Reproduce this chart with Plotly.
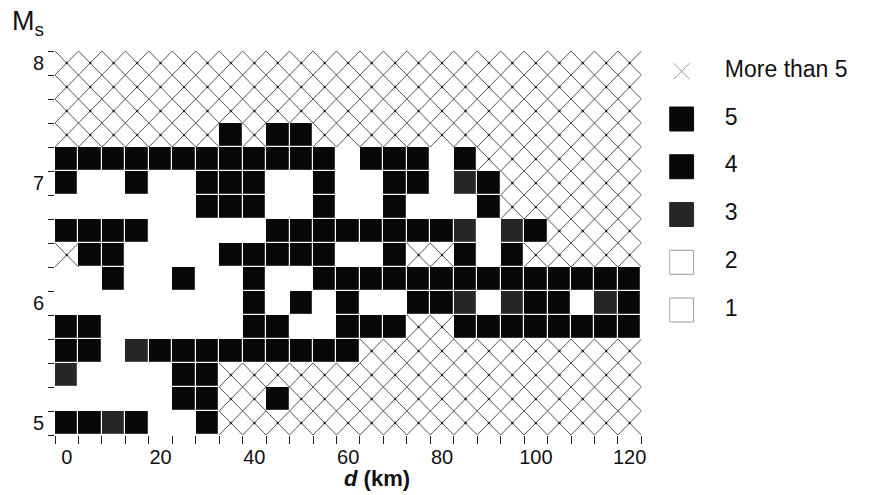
import plotly.graph_objects as go

# ---------------- data ----------------
d_km = [0, 5, 10, 15, 20, 25, 30, 35, 40, 45, 50, 55, 60,
        65, 70, 75, 80, 85, 90, 95, 100, 105, 110, 115, 120]
ms = [8.0, 7.8, 7.6, 7.4, 7.2, 7.0, 6.8, 6.6, 6.4, 6.2, 6.0, 5.8, 5.6, 5.4, 5.2, 5.0]

# class per cell: 1..5 = count class, 6 = "More than 5"
row_8_0 = [6] * 25
row_7_8 = [6] * 25
row_7_6 = [6] * 25
row_7_4 = [6, 6, 6, 6, 6, 6, 6, 4, 6, 4, 4, 6, 6, 6, 6, 6, 6, 6, 6, 6, 6, 6, 6, 6, 6]
row_7_2 = [4, 4, 4, 4, 4, 4, 4, 4, 4, 4, 4, 4, 1, 4, 4, 4, 1, 4, 6, 6, 6, 6, 6, 6, 6]
row_7_0 = [4, 1, 1, 4, 1, 1, 4, 4, 4, 1, 1, 4, 1, 1, 4, 4, 1, 3, 4, 6, 6, 6, 6, 6, 6]
row_6_8 = [1, 1, 1, 1, 1, 1, 4, 4, 4, 1, 1, 4, 1, 1, 4, 1, 1, 1, 4, 6, 6, 6, 6, 6, 6]
row_6_6 = [4, 4, 4, 4, 1, 1, 1, 1, 1, 4, 4, 4, 4, 4, 4, 4, 4, 3, 1, 3, 4, 6, 6, 6, 6]
row_6_4 = [6, 4, 4, 1, 1, 1, 1, 4, 4, 4, 4, 4, 1, 1, 4, 6, 6, 4, 1, 4, 6, 6, 6, 6, 6]
row_6_2 = [1, 1, 4, 1, 1, 4, 1, 1, 4, 1, 1, 4, 4, 4, 4, 4, 4, 4, 4, 4, 4, 4, 4, 4, 4]
row_6_0 = [1, 1, 1, 1, 1, 1, 1, 1, 4, 1, 4, 1, 4, 1, 1, 4, 4, 3, 1, 3, 4, 4, 1, 3, 4]
row_5_8 = [4, 4, 1, 1, 1, 1, 1, 1, 4, 4, 1, 1, 4, 4, 4, 6, 6, 4, 4, 4, 4, 4, 4, 4, 4]
row_5_6 = [4, 4, 1, 3, 4, 4, 4, 4, 4, 4, 4, 4, 4, 6, 6, 6, 6, 6, 6, 6, 6, 6, 6, 6, 6]
row_5_4 = [3, 1, 1, 1, 1, 4, 4, 6, 6, 6, 6, 6, 6, 6, 6, 6, 6, 6, 6, 6, 6, 6, 6, 6, 6]
row_5_2 = [1, 1, 1, 1, 1, 4, 4, 6, 6, 4, 6, 6, 6, 6, 6, 6, 6, 6, 6, 6, 6, 6, 6, 6, 6]
row_5_0 = [4, 4, 3, 4, 1, 1, 4, 6, 6, 6, 6, 6, 6, 6, 6, 6, 6, 6, 6, 6, 6, 6, 6, 6, 6]

grid = [row_8_0, row_7_8, row_7_6, row_7_4, row_7_2, row_7_0, row_6_8, row_6_6,
        row_6_4, row_6_2, row_6_0, row_5_8, row_5_6, row_5_4, row_5_2, row_5_0]

x_ticks = [0, 20, 40, 60, 80, 100, 120]
y_ticks = [5, 6, 7, 8]

legend_labels = ["More than 5", "5", "4", "3", "2", "1"]
legend_values = [6, 5, 4, 3, 2, 1]

# ---------------- styles ----------------
FONT = "Liberation Sans, Arial, Helvetica, sans-serif"
BLACK = "#080808"
DARK = "#272727"
HATCH = "#555555"
class_color = {1: "#ffffff", 2: "#ffffff", 3: DARK, 4: BLACK, 5: BLACK}
class_edge = {1: "#9a9a9a", 2: "#9a9a9a", 3: DARK, 4: BLACK, 5: BLACK}

HATCH_CLASS = 6
dx = d_km[1] - d_km[0]
dy = ms[0] - ms[1]

z = [[(v if v != HATCH_CLASS else None) for v in row] for row in grid]

colorscale = [[0.0, "#ffffff"], [0.375, "#ffffff"], [0.375, DARK], [0.625, DARK],
              [0.625, BLACK], [1.0, BLACK]]

fig = go.Figure()
fig.add_trace(go.Heatmap(
    x=d_km, y=ms, z=z, zmin=1, zmax=5, colorscale=colorscale,
    showscale=False, xgap=1.2, ygap=1.2, hoverinfo="skip"))

# hatch ("More than 5") cells: diagonals through each cell
hx, hy, cx, cy = [], [], [], []
for i, m in enumerate(ms):
    for k, d in enumerate(d_km):
        if grid[i][k] == HATCH_CLASS:
            hx += [d - dx / 2, d + dx / 2, None, d - dx / 2, d + dx / 2, None]
            hy += [m - dy / 2, m + dy / 2, None, m + dy / 2, m - dy / 2, None]
            cx.append(d)
            cy.append(m)
fig.add_trace(go.Scatter(x=hx, y=hy, mode="lines",
                         line=dict(color=HATCH, width=1), hoverinfo="skip",
                         showlegend=False))
fig.add_trace(go.Scatter(x=cx, y=cy, mode="markers",
                         marker=dict(color="#222", size=2.5), hoverinfo="skip",
                         showlegend=False))

# ---------------- legend as a small chart on its own axes ----------------
sq_vals = [v for v in legend_values if v != HATCH_CLASS]
fig.add_trace(go.Scatter(
    x=[0] * len(sq_vals), y=sq_vals, mode="markers", xaxis="x2", yaxis="y2",
    marker=dict(symbol="square", size=24,
                color=[class_color[v] for v in sq_vals],
                line=dict(color=[class_edge[v] for v in sq_vals], width=1)),
    hoverinfo="skip", showlegend=False))
fig.add_trace(go.Scatter(
    x=[0], y=[HATCH_CLASS], mode="markers", xaxis="x2", yaxis="y2",
    marker=dict(symbol="x-thin-open", size=16, color="#999999",
                line=dict(color="#999999", width=1)),
    hoverinfo="skip", showlegend=False))
fig.add_trace(go.Scatter(
    x=[1.75] * len(legend_labels), y=legend_values, mode="text", text=legend_labels,
    textposition="middle right", xaxis="x2", yaxis="y2",
    textfont=dict(family=FONT, size=23, color="#111"),
    hoverinfo="skip", showlegend=False))

W, H = 872, 495
ML, MR, MT, MB = 55, 0, 51, 60
plot_w = W - ML - MR
plot_h = H - MT - MB
main_w = 590

fig.update_layout(
    width=W, height=H,
    margin=dict(l=ML, r=MR, t=MT, b=MB),
    paper_bgcolor="white", plot_bgcolor="white",
    showlegend=False,
    font=dict(family=FONT, color="#111"),
    xaxis=dict(domain=[0, main_w / plot_w], range=[d_km[0] - dx / 2, d_km[-1] + dx / 2],
               tickvals=x_ticks, ticks="", ticklabelstandoff=8,
               tickfont=dict(family=FONT, size=20, color="#111"),
               showgrid=False, zeroline=False, showline=False,
               minor=dict(tick0=d_km[0] - dx / 2, dtick=dx, ticks="outside",
                          ticklen=8, tickcolor="#222", tickwidth=1, showgrid=False)),
    yaxis=dict(range=[ms[-1] - dy / 2, ms[0] + dy / 2],
               tickvals=y_ticks, ticks="", ticklabelstandoff=10,
               tickfont=dict(family=FONT, size=20, color="#111"),
               showgrid=False, zeroline=False, showline=False,
               minor=dict(tick0=ms[-1] - dy / 2, dtick=dy, ticks="outside",
                          ticklen=6, tickcolor="#222", tickwidth=1, showgrid=False)),
    xaxis2=dict(domain=[(673 - ML) / plot_w, 1], range=[-0.5, 7.5], visible=False,
                anchor="y2", fixedrange=True),
    yaxis2=dict(domain=[0, 1], range=[-1.618, 6.424], visible=False,
                anchor="x2", fixedrange=True),
    annotations=[
        dict(text="M<sub>s</sub>", xref="paper", yref="paper",
             x=-45 / plot_w, y=1 + 9 / plot_h, xanchor="left", yanchor="bottom",
             showarrow=False, font=dict(family=FONT, size=27, color="#111")),
        dict(text="<b><i>d</i> (km)</b>", xref="paper", yref="paper",
             x=(379 - ML) / plot_w, y=-43 / plot_h, xanchor="center",
             yanchor="middle", showarrow=False,
             font=dict(family=FONT, size=22, color="#111")),
    ],
)

fig.write_html("out.html")
